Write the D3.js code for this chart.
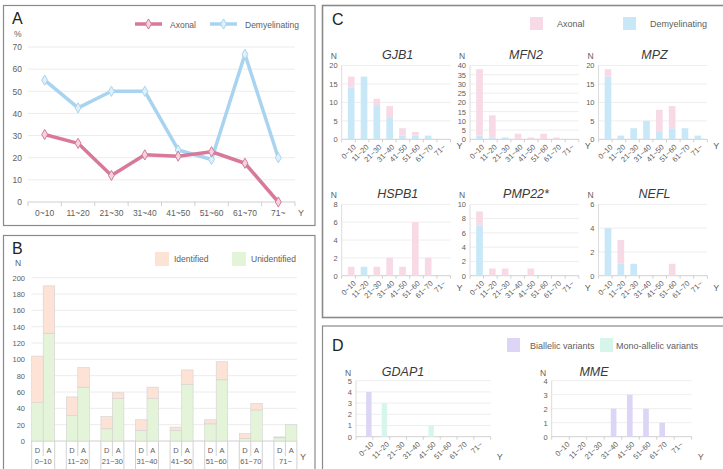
<!DOCTYPE html>
<html>
<head>
<meta charset="utf-8">
<script src="https://cdn.jsdelivr.net/npm/d3@7"></script>
<style>
  body { margin: 0; background: #fff; }
  text { font-family: "Liberation Sans", Arial, sans-serif; }
</style>
</head>
<body>
<div id="fig"></div>
<script>

// age groups (years)
var ages = ['0~10', '11~20', '21~30', '31~40', '41~50', '51~60', '61~70', '71~'];

// A: % of patients with identified cause
var axonalPct = [30.5, 26.5, 12, 21.3, 20.7, 22.7, 17.5, 0];
var demyPct   = [55, 42.5, 50, 50, 23.5, 19.2, 66.7, 20];

// B: number of patients, D = demyelinating, A = axonal
var dTotal = [104, 54, 30, 26, 17, 26, 9, 5];
var dUnid  = [47, 31, 15, 13, 13, 21, 3, 4];
var aTotal = [190, 90, 59, 66, 87, 97, 46, 20];
var aUnid  = [132, 66, 52, 52, 69, 75, 38, 20];

// C: per gene, demyelinating / axonal counts
var gjb1Demy  = [14, 17, 9, 6, 1, 1, 1, 0];
var gjb1Axon  = [3, 0, 2, 3, 2, 1, 0, 0];
var mfn2Demy  = [2, 1, 1, 0, 0, 0, 0, 0];
var mfn2Axon  = [36, 12, 0, 3, 1, 3, 1, 0];
var mpzDemy   = [17, 1, 3, 5, 2, 3, 3, 1];
var mpzAxon   = [2, 0, 0, 0, 6, 6, 0, 0];
var hspb1Demy = [0, 1, 0, 0, 0, 0, 0, 0];
var hspb1Axon = [1, 0, 1, 2, 1, 6, 2, 0];
var pmp22Demy = [7, 0, 0, 0, 0, 0, 0, 0];
var pmp22Axon = [2, 1, 1, 0, 1, 0, 0, 0];
var neflDemy  = [4, 1, 1, 0, 0, 0, 0, 0];
var neflAxon  = [0, 2, 0, 0, 0, 1, 0, 0];

// D: biallelic / mono-allelic counts
var gdap1Bi   = [4, 0, 0, 0, 0, 0, 0, 0];
var gdap1Mono = [0, 3, 0, 0, 1, 0, 0, 0];
var mmeBi     = [0, 0, 0, 2, 3, 2, 1, 0];
var mmeMono   = [0, 0, 0, 0, 0, 0, 0, 0];

var pink = '#d8799b', blue = '#a8d4f0';
var cPink = '#f8d9e6', cBlue = '#c8e8f8';
var identCol = '#fde2d6', unidCol = '#e4f4d8';
var biCol = '#dcd5f6', monoCol = '#d6f6ec';
var tickCol = '#606060';

var svg = d3.select('#fig').append('svg')
    .attr('width', 723)
    .attr('height', 469);

svg.append('rect').attr('width', 723).attr('height', 469).attr('fill', '#fff');

var txt = (g, x, y, s, size, anchor) => g.append('text')
    .attr('x', x).attr('y', y)
    .attr('text-anchor', anchor || 'start')
    .attr('fill', tickCol)
    .style('font-size', size + 'px')
    .text(s);

var frame = (x, y, w, h, sw) => svg.append('rect')
    .attr('x', x).attr('y', y).attr('width', w).attr('height', h)
    .attr('fill', 'none').attr('stroke', '#8a8a8a').attr('stroke-width', sw || 1.2);

frame(3.5, 5.5, 311.5, 220);
frame(3.5, 235.5, 311.5, 250);
frame(322.5, 5.5, 410, 312, 1.6);
frame(322.5, 326, 410, 160);

var styleAxis = (g, size) => {
  g.select('.domain').remove();
  g.selectAll('text').attr('fill', tickCol).style('font-size', size + 'px');
};

// ---------------- A ----------------
var gA = svg.append('g');
var xA = d3.scaleBand().domain(ages).range([28, 295]);
var yA = d3.scaleLinear().domain([0, 70]).range([202, 47]);

gA.selectAll('.grid').data(yA.ticks(7)).enter().append('line')
    .attr('x1', 28).attr('x2', 295)
    .attr('y1', d => yA(d)).attr('y2', d => yA(d))
    .attr('stroke', d => d ? '#ececec' : '#cfcfcf');

gA.append('g').attr('transform', 'translate(22,0)')
    .call(d3.axisLeft(yA).ticks(7).tickSize(0).tickPadding(0))
    .call(g => styleAxis(g, 8.5));

gA.append('g').attr('transform', 'translate(0,202)')
    .call(d3.axisBottom(xA).tickSize(0).tickPadding(8))
    .call(g => styleAxis(g, 8.5));

gA.selectAll('.ctick').data(ages.concat(['end'])).enter().append('line')
    .attr('x1', (d, i) => 28 + i * xA.step()).attr('x2', (d, i) => 28 + i * xA.step())
    .attr('y1', 202).attr('y2', 206).attr('stroke', '#cfcfcf');

var lineA = d3.line()
    .x((d, i) => xA(ages[i]) + xA.bandwidth() / 2)
    .y(d => yA(d));

[[demyPct, blue, '#dff0fb'], [axonalPct, pink, '#f5d3df']].forEach(s => {
  gA.append('path').datum(s[0])
      .attr('d', lineA).attr('fill', 'none')
      .attr('stroke', s[1]).attr('stroke-width', 3.5)
      .attr('stroke-linejoin', 'round');
  gA.selectAll(null).data(s[0]).enter().append('path')
      .attr('d', d3.symbol(d3.symbolDiamond).size(30))
      .attr('transform', (d, i) => 'translate(' + (xA(ages[i]) + xA.bandwidth() / 2) + ',' + yA(d) + ')')
      .attr('fill', s[2]).attr('stroke', s[1]).attr('stroke-width', 1);
});

txt(gA, 12, 24, 'A', 16).attr('fill', '#222');
txt(gA, 14, 37, '%', 8.5);
txt(gA, 298, 216, 'Y', 9);

// legend A
[[pink, '#f5d3df', 135, 'Axonal'], [blue, '#dff0fb', 210, 'Demyelinating']].forEach(l => {
  gA.append('line').attr('x1', l[2]).attr('x2', l[2] + 27).attr('y1', 24).attr('y2', 24)
      .attr('stroke', l[0]).attr('stroke-width', 3.5);
  gA.append('path').attr('d', d3.symbol(d3.symbolDiamond).size(30))
      .attr('transform', 'translate(' + (l[2] + 13.5) + ',24)')
      .attr('fill', l[1]).attr('stroke', l[0]);
  txt(gA, l[2] + 35, 27.5, l[3], 8.5);
});

// ---------------- B ----------------
var gB = svg.append('g');
var xB = d3.scaleBand().domain(ages).range([31.7, 296.9]).paddingInner(0.335).paddingOuter(0);
var xSub = d3.scaleBand().domain(['D', 'A']).range([0, xB.bandwidth()]);
var yB = d3.scaleLinear().domain([0, 200]).range([441, 277.7]);

gB.selectAll('.grid').data(yB.ticks(10)).enter().append('line')
    .attr('x1', 31.7).attr('x2', 296.9)
    .attr('y1', d => yB(d)).attr('y2', d => yB(d))
    .attr('stroke', d => d ? '#ececec' : '#cfcfcf');

gB.append('g').attr('transform', 'translate(25,0)')
    .call(d3.axisLeft(yB).ticks(10).tickSize(0).tickPadding(0))
    .call(g => styleAxis(g, 7.5));

var barsB = [];
ages.forEach((a, i) => {
  barsB.push({age: a, sub: 'D', unid: dUnid[i], total: dTotal[i]});
  barsB.push({age: a, sub: 'A', unid: aUnid[i], total: aTotal[i]});
});

var bx = d => xB(d.age) + xSub(d.sub);
gB.selectAll('.unid').data(barsB).enter().append('rect')
    .attr('x', bx).attr('width', xSub.bandwidth())
    .attr('y', d => yB(d.unid)).attr('height', d => yB(0) - yB(d.unid))
    .attr('fill', unidCol).attr('stroke', '#d2d2d2').attr('stroke-width', 0.6);
gB.selectAll('.ident').data(barsB.filter(d => d.total > d.unid)).enter().append('rect')
    .attr('x', bx).attr('width', xSub.bandwidth())
    .attr('y', d => yB(d.total)).attr('height', d => yB(d.unid) - yB(d.total))
    .attr('fill', identCol).attr('stroke', '#d2d2d2').attr('stroke-width', 0.6);

// multi-level category axis
gB.selectAll('.sep').data(barsB).enter().append('line')
    .attr('x1', bx).attr('x2', bx)
    .attr('y1', 441).attr('y2', d => d.sub === 'D' ? 469 : 456)
    .attr('stroke', '#d2d2d2');
gB.selectAll('.sepR').data(ages).enter().append('line')
    .attr('x1', d => xB(d) + xB.bandwidth()).attr('x2', d => xB(d) + xB.bandwidth())
    .attr('y1', 441).attr('y2', 469).attr('stroke', '#d2d2d2');
gB.selectAll('.subl').data(barsB).enter().append('text')
    .attr('x', d => bx(d) + xSub.bandwidth() / 2).attr('y', 453)
    .attr('text-anchor', 'middle').attr('fill', tickCol).style('font-size', '7.5px')
    .text(d => d.sub);
gB.append('g').attr('transform', 'translate(0,459)')
    .call(d3.axisBottom(xB).tickSize(0).tickPadding(0))
    .call(g => styleAxis(g, 7.5));

txt(gB, 12, 254, 'B', 16).attr('fill', '#222');
txt(gB, 15, 266, 'N', 8.5);
txt(gB, 300, 460, 'Y', 9);

[[identCol, 155, 'Identified'], [unidCol, 232, 'Unidentified']].forEach(l => {
  gB.append('rect').attr('x', l[1]).attr('y', 252).attr('width', 14).attr('height', 14).attr('fill', l[0]);
  txt(gB, l[1] + 19, 262, l[2], 8.5);
});

// ---------------- small bar charts (C, D) ----------------
var smallChart = (o) => {
  var g = svg.append('g');
  var x = d3.scaleBand().domain(ages).range([o.x0, o.x0 + o.w]).padding(o.pad);
  var y = d3.scaleLinear().domain([0, o.max]).range([o.y0, o.y1]);
  var ticks = d3.range(0, o.max + 0.001, o.step);

  g.selectAll('.grid').data(ticks).enter().append('line')
      .attr('x1', o.x0).attr('x2', o.x0 + o.w)
      .attr('y1', d => y(d)).attr('y2', d => y(d))
      .attr('stroke', d => d ? '#eeeeee' : '#d0d0d0');
  g.append('line').attr('x1', o.x0).attr('x2', o.x0).attr('y1', o.y1).attr('y2', o.y0).attr('stroke', '#dcdcdc');
  g.selectAll('.ctick').data(ages.concat(['end'])).enter().append('line')
      .attr('x1', (d, i) => o.x0 + i * o.w / 8).attr('x2', (d, i) => o.x0 + i * o.w / 8)
      .attr('y1', o.y0).attr('y2', o.y0 + 3).attr('stroke', '#d0d0d0');

  g.append('g').attr('transform', 'translate(' + (o.x0 - 4) + ',0)')
      .call(d3.axisLeft(y).tickValues(ticks).tickFormat(d3.format('d')).tickSize(0).tickPadding(0))
      .call(a => styleAxis(a, 7.5));

  g.selectAll('.lo').data(o.lo).enter().append('rect')
      .attr('x', (d, i) => x(ages[i])).attr('width', x.bandwidth())
      .attr('y', d => y(d)).attr('height', d => y(0) - y(d))
      .attr('fill', o.loCol);
  g.selectAll('.hi').data(o.hi).enter().append('rect')
      .attr('x', (d, i) => x(ages[i])).attr('width', x.bandwidth())
      .attr('y', (d, i) => y(d + o.lo[i])).attr('height', (d, i) => y(o.lo[i]) - y(d + o.lo[i]))
      .attr('fill', o.hiCol);

  g.selectAll('.xl').data(ages).enter().append('text')
      .attr('transform', d => 'translate(' + (x(d) + x.bandwidth() / 2 + 2) + ',' + (o.y0 + 5) + ') rotate(-45)')
      .attr('text-anchor', 'end').attr('dy', '0.6em')
      .attr('fill', tickCol).style('font-size', '7.5px')
      .text(d => d);

  g.append('text').attr('x', o.tx).attr('y', o.ty)
      .attr('text-anchor', 'middle').attr('fill', '#3a3a3a')
      .style('font-size', '12.5px').style('font-style', 'italic').style('font-weight', 'normal')
      .text(o.title);
  txt(g, o.nx, o.ty, 'N', 8.5);
  txt(g, o.x0 + o.w + 6, o.yy, 'Y', 9);
};

var r1 = {y0: 139.3, y1: 65.5, ty: 59, yy: 149};
var r2 = {y0: 275.7, y1: 204.3, ty: 198, yy: 291};
var cx = [341.7, 470, 598.5];
var cW = 108.8;

var cCharts = [
  ['GJB1', gjb1Demy, gjb1Axon, 20, 5, cx[0], r1],
  ['MFN2', mfn2Demy, mfn2Axon, 40, 5, cx[1], r1],
  ['MPZ', mpzDemy, mpzAxon, 20, 5, cx[2], r1],
  ['HSPB1', hspb1Demy, hspb1Axon, 8, 2, cx[0], r2],
  ['PMP22*', pmp22Demy, pmp22Axon, 10, 2, cx[1], r2],
  ['NEFL', neflDemy, neflAxon, 6, 2, cx[2], r2]
];

cCharts.forEach(c => smallChart({
  title: c[0], lo: c[1], hi: c[2], max: c[3], step: c[4],
  x0: c[5], w: cW, y0: c[6].y0, y1: c[6].y1, pad: 0.48,
  tx: c[5] + 56, ty: c[6].ty, nx: c[5] - 11, yy: c[6].yy,
  loCol: cBlue, hiCol: cPink
}));

var gC = svg.append('g');
txt(gC, 332, 25, 'C', 16).attr('fill', '#222');
[[cPink, 530, 'Axonal'], [cBlue, 623, 'Demyelinating']].forEach(l => {
  gC.append('rect').attr('x', l[1]).attr('y', 17).attr('width', 13).attr('height', 13).attr('fill', l[0]);
  txt(gC, l[1] + 27, 27, l[2], 9);
});

smallChart({
  title: 'GDAP1', lo: gdap1Bi, hi: gdap1Mono, max: 5, step: 1,
  x0: 356, w: 134.7, y0: 436.7, y1: 380.7, pad: 0.65,
  tx: 403, ty: 376, nx: 345, yy: 460,
  loCol: biCol, hiCol: monoCol
});
smallChart({
  title: 'MME', lo: mmeBi, hi: mmeMono, max: 4, step: 1,
  x0: 551.7, w: 140, y0: 436.7, y1: 380.7, pad: 0.65,
  tx: 594, ty: 376, nx: 540, yy: 460,
  loCol: biCol, hiCol: monoCol
});

var gD = svg.append('g');
txt(gD, 332, 351, 'D', 16).attr('fill', '#222');
[[biCol, 507, 'Biallelic variants'], [monoCol, 600, 'Mono-allelic variants']].forEach(l => {
  gD.append('rect').attr('x', l[1]).attr('y', 338).attr('width', 13).attr('height', 14).attr('fill', l[0]);
  txt(gD, l[1] + (l[1] === 507 ? 23 : 16), 348.5, l[2], 9);
});

</script>
</body>
</html>
